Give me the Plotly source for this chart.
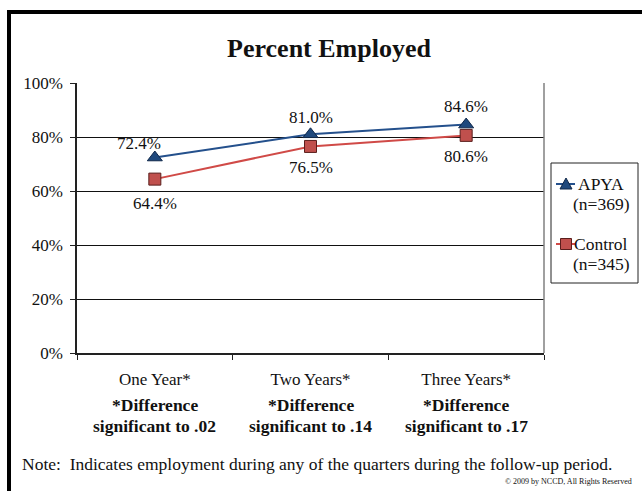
import plotly.graph_objects as go

# Follow-up periods and employment rates (share of each group employed)
periods = ["One Year*", "Two Years*", "Three Years*"]
significance = ["*Difference<br>significant to .02",
                "*Difference<br>significant to .14",
                "*Difference<br>significant to .17"]
apya_rate = [0.724, 0.810, 0.846]
control_rate = [0.644, 0.765, 0.806]
apya_name = "APYA<br>(n=369)"
control_name = "Control<br>(n=345)"

SERIF = "Liberation Serif"
INK = "#111111"
APYA_LINE, APYA_FILL, APYA_EDGE = "#24508C", "#1F497D", "#10284A"
CTRL_LINE, CTRL_FILL, CTRL_EDGE = "#D04A47", "#C0504D", "#5A1E1C"

W, H = 642, 491
L, R, T, B = 77, 98, 83, 138
pw, ph = W - L - R, H - T - B


def px_x(x):
    return (x - L) / pw


def px_y(y):
    return (H - B - y) / ph


fig = go.Figure()

fig.add_trace(go.Scatter(
    x=periods, y=apya_rate, name=apya_name, mode="lines+markers",
    line=dict(color=APYA_LINE, width=2),
    marker=dict(symbol="triangle-up", size=13, color=APYA_FILL,
                line=dict(color=APYA_EDGE, width=1)),
    showlegend=False,
))
fig.add_trace(go.Scatter(
    x=periods, y=control_rate, name=control_name, mode="lines+markers",
    line=dict(color=CTRL_LINE, width=2),
    marker=dict(symbol="square", size=12, color=CTRL_FILL,
                line=dict(color=CTRL_EDGE, width=1)),
    showlegend=False,
))

# Value labels: APYA above its markers, Control below
apya_shift = [(-16, 14), (0, 17), (0, 18)]
ctrl_shift = [(0, -24), (0, -21), (0, -21)]
for p, v, (dx, dy) in zip(periods, apya_rate, apya_shift):
    fig.add_annotation(x=p, y=v, xshift=dx, yshift=dy, showarrow=False,
                       text=f"{v*100:.1f}%",
                       font=dict(family=SERIF, size=17, color=INK))
for p, v, (dx, dy) in zip(periods, control_rate, ctrl_shift):
    fig.add_annotation(x=p, y=v, xshift=dx, yshift=dy, showarrow=False,
                       text=f"{v*100:.1f}%",
                       font=dict(family=SERIF, size=17, color=INK))

# Bold significance notes under each period label (two tight lines)
for p, s in zip(periods, significance):
    for line, yc in zip(s.split("<br>"), (405, 426)):
        fig.add_annotation(x=p, y=0, xref="x", yref="paper", yanchor="middle",
                           yshift=-(yc - (H - B)), text=f"<b>{line}</b>",
                           showarrow=False,
                           font=dict(family=SERIF, size=17.5, color=INK))

# Footnote and copyright
fig.add_annotation(x=px_x(20), y=px_y(464), xref="paper", yref="paper",
                   xanchor="left", yanchor="middle", showarrow=False,
                   text="Note:  Indicates employment during any of the quarters during the follow-up period.",
                   font=dict(family=SERIF, size=17.5, color=INK))
fig.add_annotation(x=px_x(634), y=px_y(481), xref="paper", yref="paper",
                   xanchor="right", yanchor="middle", showarrow=False,
                   text="© 2009 by NCCD, All Rights Reserved",
                   font=dict(family=SERIF, size=8, color=INK))

# Slide frame: heavy bars on the top and left edges
fig.add_shape(type="rect", xref="paper", yref="paper",
              x0=px_x(7), x1=px_x(11), y0=px_y(H + 5), y1=px_y(10),
              fillcolor="black", line_width=0, layer="above")
fig.add_shape(type="rect", xref="paper", yref="paper",
              x0=px_x(7), x1=px_x(W + 5), y0=px_y(14), y1=px_y(10),
              fillcolor="black", line_width=0, layer="above")
# Right edge of the plot area
fig.add_shape(type="line", xref="paper", yref="paper",
              x0=1, x1=1, y0=0, y1=1, line=dict(color="#808080", width=1.5))

# Legend box with a short line-and-marker key for each series
fig.add_shape(type="rect", xref="paper", yref="paper",
              x0=px_x(551), x1=px_x(638), y0=px_y(283), y1=px_y(163),
              line=dict(color="#222", width=1), fillcolor="white")
legend_rows = [
    (apya_name, 184, APYA_LINE, APYA_FILL, APYA_EDGE, "triangle"),
    (control_name, 244, CTRL_LINE, CTRL_FILL, CTRL_EDGE, "square"),
]
for name, yc, lc, fc, ec, sym in legend_rows:
    fig.add_shape(type="line", xref="paper", yref="paper",
                  x0=px_x(556), x1=px_x(575), y0=px_y(yc), y1=px_y(yc),
                  line=dict(color=lc, width=2))
    cx = 566
    if sym == "triangle":
        path = (f"M {px_x(cx - 6)} {px_y(yc + 5)} L {px_x(cx + 6)} {px_y(yc + 5)} "
                f"L {px_x(cx)} {px_y(yc - 6)} Z")
        fig.add_shape(type="path", xref="paper", yref="paper", path=path,
                      fillcolor=fc, line=dict(color=ec, width=1))
    else:
        fig.add_shape(type="rect", xref="paper", yref="paper",
                      x0=px_x(cx - 5.5), x1=px_x(cx + 5.5),
                      y0=px_y(yc + 5.5), y1=px_y(yc - 5.5),
                      fillcolor=fc, line=dict(color=ec, width=1))
    for k, line in enumerate(name.split("<br>")):
        fig.add_annotation(x=px_x(601), y=px_y(yc + 20 * k),
                           xref="paper", yref="paper",
                           xanchor="center", yanchor="middle",
                           showarrow=False, text=line,
                           font=dict(family=SERIF, size=17.5, color=INK))

fig.update_layout(
    width=W, height=H,
    margin=dict(l=L, r=R, t=T, b=B, autoexpand=False),
    paper_bgcolor="white", plot_bgcolor="white",
    title=dict(text="<b>Percent Employed</b>", xref="container",
               x=329 / W, xanchor="center",
               y=1 - 48 / H, yanchor="middle",
               font=dict(family=SERIF, size=26, color=INK)),
    font=dict(family=SERIF, color=INK),
    showlegend=False,
    xaxis=dict(type="category", range=[-0.5, 2.5], tickson="boundaries",
               ticks="outside", ticklen=5, tickcolor="#222",
               showline=True, linecolor="#222", linewidth=1.5,
               showgrid=False, ticklabelstandoff=10,
               tickfont=dict(family=SERIF, size=17, color=INK)),
    yaxis=dict(range=[0, 1], dtick=0.2, tickformat=".0%",
               ticks="outside", ticklen=5, tickcolor="#222",
               showline=True, linecolor="#222", linewidth=1.5,
               showgrid=True, gridcolor="#111", gridwidth=1,
               zeroline=False, ticklabelstandoff=4,
               tickfont=dict(family=SERIF, size=17, color=INK)),
)

fig.write_html("out.html")
